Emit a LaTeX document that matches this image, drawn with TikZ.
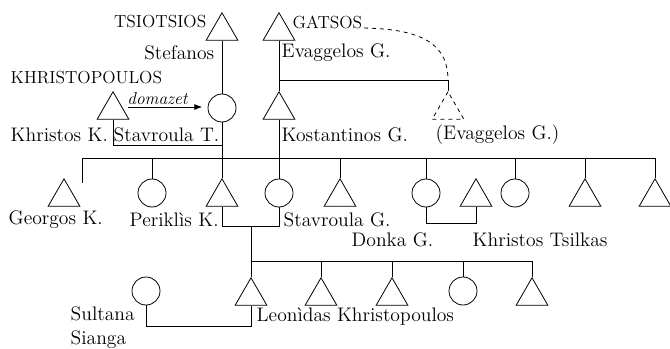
\documentclass[tikz,border=0pt]{standalone}
\usepackage{fontspec}
\usetikzlibrary{positioning,shapes.geometric,arrows.meta,calc}
\tikzset{
  male/.style={regular polygon, regular polygon sides=3, draw, inner sep=0pt, minimum size=27.5pt, anchor=north},
  female/.style={circle, draw, inner sep=0pt, minimum size=21pt},
  lbl/.style={inner sep=1pt, font=\fontsize{14.7}{18}\selectfont},
  clan/.style={inner sep=1pt, font=\fontsize{13.1}{15}\selectfont},
}
\begin{document}
\begin{tikzpicture}[x=0.75pt, y=-0.75pt, line width=0.6pt]
\useasboundingbox (0,0) rectangle (670,349);
% grandparents
\node [male] (stef) at (222,12) {};
\node [male] (evag) at (279,12) {};
\node [male] (khr) at (113,91) {};
\node [female] (stavT) at (222,108) {};
\node [male] (kost) at (279,91) {};
\node [male, dashed] (evagB) at (448,91) {};
\node [clan, anchor=east] (tsio) at (208,22) {TSIOTSIOS};
\node [lbl, anchor=east] (lstef) at (216,53) {Stefanos};
\node [clan, anchor=west] (gats) at (291,22) {GATSOS};
\node [lbl, anchor=west] (levag) at (280,53) {Evaggelos G.};
\node [clan, anchor=west] (khrist) at (9,78) {KHRISTOPOULOS};
\node [lbl, anchor=west] (lkhr) at (9,135) {Khristos K.};
\node [lbl, anchor=west] (lstavT) at (112,135) {Stavroula T.};
\node [lbl, anchor=west] (lkost) at (280,135) {Kostantinos G.};
\node [lbl, anchor=west] (levagB) at (434,135) {(Evaggelos G.)};
\coordinate (dz) at (128,107);
\coordinate (mk) at (222,145);
\coordinate (eb) at (279,80);
\coordinate (ej) at (448,80);
\draw (stef) -- (stavT);
\draw (evag) -- (kost);
\draw (khr.south) |- (mk);
\draw [-{Latex[length=6pt,width=4.5pt]}, shorten >=4pt] (dz) -- (dz -| stavT.west)
  node [pos=0.37, above, inner sep=1.5pt, font=\fontsize{13}{15}\selectfont\itshape] (ldz) {domazet};
\draw (eb) -- (ej) -- (evagB.north);
\draw [dashed] (gats.base east) .. controls (428,29) and (448,48) .. (ej);
% parents
\node [male] (georg) at (64,178) {};
\node [female] (fA) at (152,193) {};
\node [male] (perik) at (222,178) {};
\node [female] (stavG) at (279,193) {};
\node [male] (mA) at (340,178) {};
\node [female] (donka) at (426,193) {};
\node [male] (tsil) at (476,178) {};
\node [female] (fB) at (515,193) {};
\node [male] (mB) at (585,178) {};
\node [male] (mC) at (655,178) {};
\node [lbl, anchor=west] (lgeorg) at (7,220) {Georgos K.};
\node [lbl, anchor=west] (lperik) at (128,220) {Periklìs K.};
\node [lbl, anchor=west] (lstavG) at (282,220) {Stavroula G.};
\node [lbl, anchor=west] (ldonka) at (350,240) {Donka G.};
\node [lbl, anchor=west] (ltsil) at (471,240) {Khristos Tsilkas};
\coordinate (bl) at (82,158);
\coordinate (br) at (655,158);
\coordinate (gd) at (82,183);
\draw (bl) -- (br);
\draw (bl) -- (gd);
\draw (stavT) -- (perik);
\draw (kost) -- (stavG);
\foreach \n in {fA,mA,donka,fB,mB,mC}
  \draw (\n |- bl) -- (\n);
\draw (donka.south) -- ++(0,16) -| (tsil.south);
\draw (perik.south) -- ++(0,20) -| (stavG.south);
% children
\node [female] (sult) at (146,291) {};
\node [male] (leon) at (251,277) {};
\node [male] (mD) at (321,277) {};
\node [male] (mE) at (392,277) {};
\node [female] (fC) at (463,291) {};
\node [male] (mF) at (532,277) {};
\node [lbl, anchor=west, align=left] (lsult) at (69,328) {Sultana\\Sianga};
\node [lbl, anchor=west] (lleon) at (255,317) {Leonìdas Khristopoulos};
\coordinate (pm) at (251,226);
\coordinate (cb) at (251,261);
\draw (pm) -- (leon);
\draw (cb) -- (cb -| mF);
\foreach \n in {mD,mE,fC,mF}
  \draw (\n |- cb) -- (\n);
\draw (leon.south) -- ++(0,21) -| (sult.south);
\end{tikzpicture}
\end{document}
